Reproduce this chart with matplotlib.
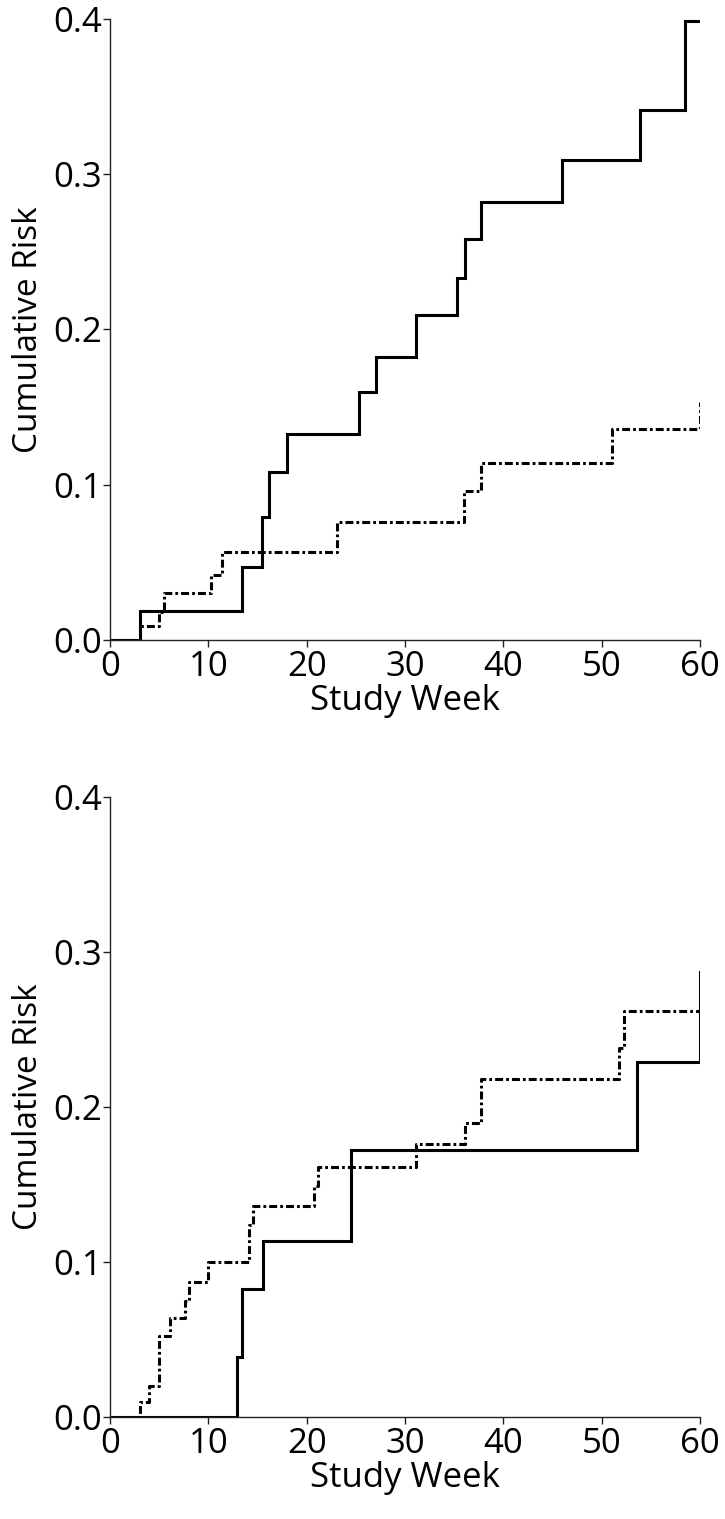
import matplotlib
matplotlib.use("Agg")
import matplotlib.pyplot as plt

plt.rcParams['font.family'] = ['Open Sans', 'DejaVu Sans']

# Top panel
top_solid_weeks = [0, 3.0, 13.4, 15.5, 16.2, 18.0, 25.3, 27.0, 31.1, 35.3, 36.1, 37.7, 46.0, 53.9, 58.5, 60]
top_solid_risk = [0.0, 0.019, 0.047, 0.079, 0.108, 0.133, 0.160, 0.1825, 0.2095, 0.233, 0.258, 0.282, 0.3095, 0.3415, 0.399, 0.399]

top_dot_weeks = [0, 3.0, 5.0, 5.5, 10.3, 11.4, 23.1, 36.0, 37.7, 51.0, 60]
top_dot_risk = [0.0, 0.0087, 0.018, 0.030, 0.042, 0.057, 0.076, 0.096, 0.114, 0.136, 0.1535]

# Bottom panel
bot_solid_weeks = [0, 12.9, 13.4, 15.6, 24.5, 53.6, 60]
bot_solid_risk = [0.0, 0.039, 0.0825, 0.1135, 0.172, 0.229, 0.287]

bot_dot_weeks = [0, 3.0, 4.0, 5.0, 6.1, 7.6, 8.0, 10.0, 14.1, 14.5, 20.7, 21.2, 31.1, 36.1, 37.7, 51.8, 52.3, 60]
bot_dot_risk = [0.0, 0.010, 0.020, 0.052, 0.064, 0.075, 0.087, 0.100, 0.124, 0.136, 0.149, 0.161, 0.176, 0.190, 0.218, 0.238, 0.262, 0.262]

x_ticks = [0, 10, 20, 30, 40, 50, 60]
y_ticks = [0.0, 0.1, 0.2, 0.3, 0.4]
y_ticklabels = ["0.0", "0.1", "0.2", "0.3", "0.4"]

fig = plt.figure(figsize=(7.25, 15.19), dpi=100)
W, H = 725, 1519
ax_top = fig.add_axes([110 / W, 1 - 640 / H, 590 / W, 621 / H])
ax_bot = fig.add_axes([110 / W, 1 - 1417 / H, 590 / W, 620 / H])

dash_style = (0, (2.6, 1.0, 0.9, 1.0))

for ax, sw, sr, dw, dr in [
    (ax_top, top_solid_weeks, top_solid_risk, top_dot_weeks, top_dot_risk),
    (ax_bot, bot_solid_weeks, bot_solid_risk, bot_dot_weeks, bot_dot_risk),
]:
    ax.step(dw, dr, where='post', color='black', lw=2.2, linestyle=dash_style,
            solid_capstyle='butt', dash_capstyle='butt')
    ax.step(sw, sr, where='post', color='black', lw=2.2, solid_joinstyle='miter')
    ax.set_xlim(0, 60)
    ax.set_ylim(0, 0.4)
    ax.set_xticks(x_ticks)
    ax.set_yticks(y_ticks)
    ax.set_yticklabels(y_ticklabels)
    for s in ['top', 'right']:
        ax.spines[s].set_visible(False)
    for s in ['left', 'bottom']:
        ax.spines[s].set_linewidth(1.0)
        ax.spines[s].set_color('#222222')
    ax.tick_params(axis='both', length=5, width=1.0, color='#222222',
                   labelsize=25, pad=1)
    ax.tick_params(axis='x', pad=2)
    ax.set_xlabel('Study Week', fontsize=25, labelpad=0)
    ax.set_ylabel('Cumulative Risk', fontsize=24, labelpad=6)

fig.savefig('out.png', dpi=100)
